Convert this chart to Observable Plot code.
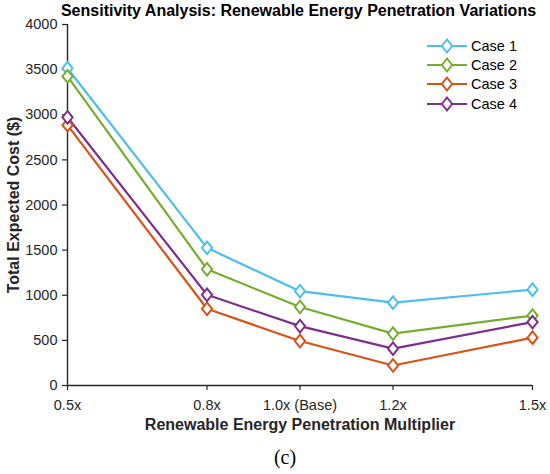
<!DOCTYPE html>
<html>
<head>
<meta charset="utf-8">
<script src="https://cdn.jsdelivr.net/npm/d3@7"></script>
<script src="https://cdn.jsdelivr.net/npm/@observablehq/plot@0.6"></script>
<style>
  html, body { margin: 0; padding: 0; background: #fff; }
  #wrap { position: relative; width: 550px; height: 474px; font-family: "Liberation Sans", Arial, sans-serif; }
  #title { position: absolute; top: 2px; left: 0; width: 597px; text-align: center; font-weight: bold; font-size: 16px; color: #000; white-space: nowrap; }
  #legend { position: absolute; left: 426px; top: 36px; font-size: 14.5px; color: #000; }
  .row { height: 19.3px; display: flex; align-items: center; }
  .row span { margin-left: 3px; }
  #caption { position: absolute; top: 446px; left: 0; width: 570px; text-align: center; font-family: "Liberation Serif", "DejaVu Serif", serif; font-size: 20px; color: #000; }
  #chart { position: absolute; top: 0; left: 0; }
</style>
</head>
<body>
<div id="wrap">
  <div id="chart"></div>
  <div id="title"></div>
  <div id="legend"></div>
  <div id="caption"></div>
</div>
<script>
const titleText = "Sensitivity Analysis: Renewable Energy Penetration Variations";
const xTitle = "Renewable Energy Penetration Multiplier";
const yTitle = "Total Expected Cost ($)";
const captionText = "(c)";

const xValues = [0.5, 0.8, 1.0, 1.2, 1.5];
const xLabels = ["0.5x", "0.8x", "1.0x (Base)", "1.2x", "1.5x"];
const yTicks = [0, 500, 1000, 1500, 2000, 2500, 3000, 3500, 4000];

const cases = ["Case 1", "Case 2", "Case 3", "Case 4"];
const colors = ["#4DBEEE", "#77AC30", "#D95319", "#7E2F8E"];

const case1 = [3515, 1525, 1045, 918, 1062];
const case2 = [3425, 1288, 870, 575, 775];
const case3 = [2885, 850, 493, 222, 530];
const case4 = [2972, 1005, 658, 408, 703];

const series = [case1, case2, case3, case4];
const data = series.flatMap((vals, s) =>
  vals.map((v, i) => ({ series: cases[s], x: xValues[i], y: v }))
);

const diamond = {
  draw(ctx, size) {
    const r = Math.sqrt(size / Math.PI);
    const w = r * 0.85, h = r * 1.05;
    ctx.moveTo(0, -h); ctx.lineTo(w, 0); ctx.lineTo(0, h); ctx.lineTo(-w, 0); ctx.closePath();
  }
};

const chart = Plot.plot({
  width: 550,
  height: 440,
  marginTop: 24,
  marginBottom: 55,
  marginLeft: 67,
  marginRight: 18,
  style: { fontFamily: "Liberation Sans, Arial, sans-serif", fontSize: "14.5px", color: "#262626", background: "transparent", overflow: "visible" },
  x: { domain: [0.5, 1.5] },
  y: { domain: [0, 4000] },
  color: { domain: cases, range: colors },
  marks: [
    Plot.axisX({ ticks: xValues, tickFormat: d => xLabels[xValues.indexOf(d)], tickSize: 5, tickPadding: 9, fontSize: 14.5,
      label: xTitle, labelAnchor: "center", labelArrow: "none", labelOffset: 44, stroke: "#262626", strokeWidth: 1.2 }),
    Plot.axisY({ ticks: yTicks, tickFormat: d => String(d), tickSize: 5, tickPadding: 5, fontSize: 14.5,
      label: yTitle, labelAnchor: "center", labelArrow: "none", labelOffset: 60, stroke: "#262626", strokeWidth: 1.2 }),
    Plot.ruleX([0.5], { stroke: "#262626", strokeWidth: 1.4 }),
    Plot.ruleY([0], { stroke: "#262626", strokeWidth: 1.4 }),
    Plot.line(data, { x: "x", y: "y", z: "series", stroke: "series", strokeWidth: 2.2 }),
    Plot.dot(data, { x: "x", y: "y", stroke: "series", fill: "white", symbol: diamond, r: 6, strokeWidth: 2 })
  ]
});
document.getElementById("chart").appendChild(chart);

d3.select(chart).selectAll('[aria-label="x-axis label"] text, [aria-label="y-axis label"] text')
  .style("font-weight", "bold").style("font-size", "16px").attr("fill", "#262626");

document.getElementById("title").textContent = titleText;
document.getElementById("caption").textContent = captionText;

const legend = d3.select("#legend");
cases.forEach((c, i) => {
  const row = legend.append("div").attr("class", "row");
  const svg = row.append("svg").attr("width", 42).attr("height", 18);
  svg.append("line").attr("x1", 1).attr("x2", 41).attr("y1", 9).attr("y2", 9)
    .attr("stroke", colors[i]).attr("stroke-width", 2.2);
  svg.append("path").attr("d", "M21,2.5L26.1,9L21,15.5L15.9,9Z")
    .attr("fill", "white").attr("stroke", colors[i]).attr("stroke-width", 2);
  row.append("span").text(c);
});
</script>
</body>
</html>
